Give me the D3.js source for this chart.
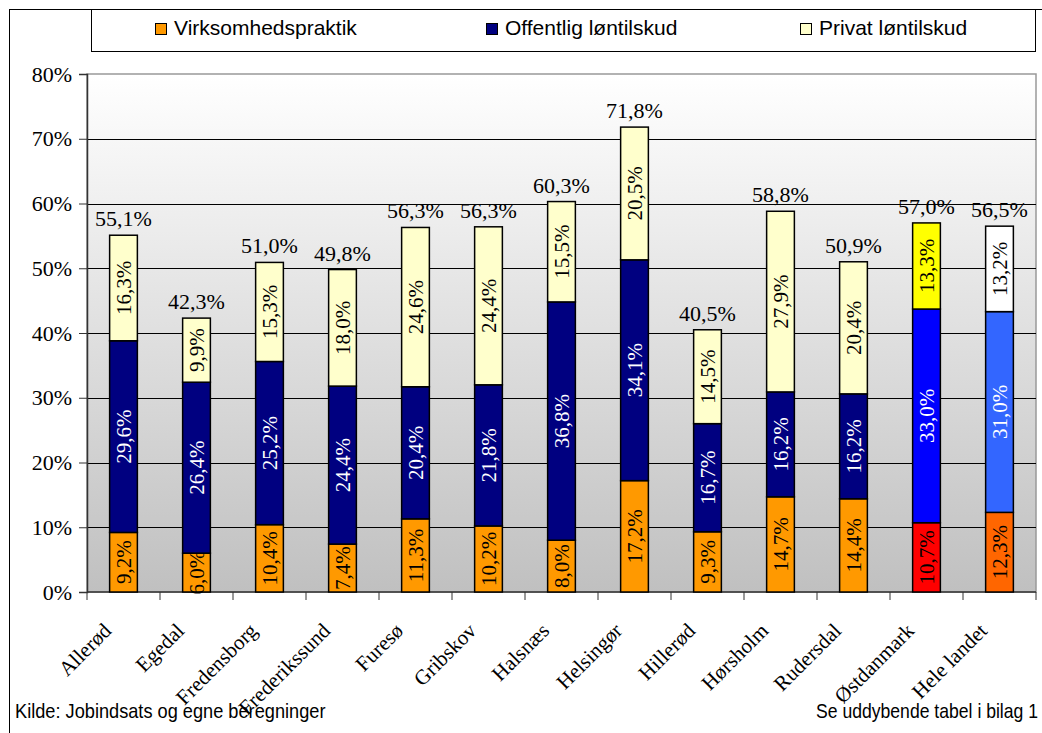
<!DOCTYPE html>
<html>
<head>
<meta charset="utf-8">
<script src="https://cdn.jsdelivr.net/npm/d3@7"></script>
<style>
  body { margin: 0; background: #fff; }
</style>
</head>
<body>
<div id="chart"></div>
<script>
var categories = ["Allerød", "Egedal", "Fredensborg", "Frederikssund", "Furesø", "Gribskov",
  "Halsnæs", "Helsingør", "Hillerød", "Hørsholm", "Rudersdal", "Østdanmark", "Hele landet"];
var seriesNames = ["Virksomhedspraktik", "Offentlig løntilskud", "Privat løntilskud"];
var virksomhed = [9.2, 6.0, 10.4, 7.4, 11.3, 10.2, 8.0, 17.2, 9.3, 14.7, 14.4, 10.7, 12.3];
var offentlig  = [29.6, 26.4, 25.2, 24.4, 20.4, 21.8, 36.8, 34.1, 16.7, 16.2, 16.2, 33.0, 31.0];
var privat     = [16.3, 9.9, 15.3, 18.0, 24.6, 24.4, 15.5, 20.5, 14.5, 27.9, 20.4, 13.3, 13.2];
var totals     = [55.1, 42.3, 51.0, 49.8, 56.3, 56.3, 60.3, 71.8, 40.5, 58.8, 50.9, 57.0, 56.5];
var yTicks = [0, 10, 20, 30, 40, 50, 60, 70, 80];

var width = 1042, height = 733;
var plot = {left: 87, right: 1036, top: 74, bottom: 592};
var SERIF = "'Liberation Serif', 'Times New Roman', serif";
var SANS = "'Liberation Sans', Arial, sans-serif";

var baseColors = ["#ff9900", "#000080", "#ffffcc"];
var baseText = ["#000", "#fff", "#000"];
// the two summary bars get their own colours
var specialColors = {
  "Østdanmark": ["#ff0000", "#0000ff", "#ffff00"],
  "Hele landet": ["#ff6600", "#3366ff", "#ffffff"]
};

var fmt = function(v) { return v.toFixed(1).replace(".", ",") + "%"; };

var svg = d3.select("#chart").append("svg")
  .attr("width", width).attr("height", height);

var grad = svg.append("defs").append("linearGradient").attr("id", "bg")
  .attr("x1", 0).attr("y1", 0).attr("x2", 0).attr("y2", 1);
grad.append("stop").attr("offset", "0%").attr("stop-color", "#ffffff");
grad.append("stop").attr("offset", "100%").attr("stop-color", "#c0c0c0");

// outer frame (runs off the right/bottom edge like the original)
svg.append("rect").attr("x", 9.5).attr("y", 9.5).attr("width", 1060).attr("height", 760)
  .attr("fill", "none").attr("stroke", "#000").attr("stroke-width", 1);

var x = d3.scaleBand().domain(categories).range([plot.left, plot.right]).paddingInner(0.62).paddingOuter(0.31);
var xTick = d3.scaleBand().domain(categories).range([plot.left, plot.right]);
var y = d3.scaleLinear().domain([0, 80]).range([plot.bottom, plot.top]);

svg.append("rect").attr("x", plot.left).attr("y", plot.top)
  .attr("width", plot.right - plot.left).attr("height", plot.bottom - plot.top)
  .attr("fill", "url(#bg)").attr("stroke", "#999").attr("stroke-width", 1.5);

// gridlines
svg.append("g").selectAll("line").data(yTicks.slice(1, -1)).enter().append("line")
  .attr("x1", plot.left).attr("x2", plot.right)
  .attr("y1", function(d) { return Math.round(y(d)) + 0.5; })
  .attr("y2", function(d) { return Math.round(y(d)) + 0.5; })
  .attr("stroke", "#000").attr("stroke-width", 1);

// y axis
var yAxis = svg.append("g").attr("transform", "translate(" + plot.left + ",0)")
  .call(d3.axisLeft(y).tickValues(yTicks).tickSize(8).tickPadding(7)
    .tickFormat(function(d) { return d + "%"; }));
yAxis.select(".domain").attr("stroke", "#333").attr("stroke-width", 1.5);
yAxis.selectAll(".tick line").attr("stroke", "#333");
yAxis.selectAll("text").style("font-family", SERIF).style("font-size", "22px").attr("fill", "#000");

// x axis line + ticks at band edges
svg.append("line").attr("x1", plot.left).attr("x2", plot.right)
  .attr("y1", plot.bottom).attr("y2", plot.bottom)
  .attr("stroke", "#333").attr("stroke-width", 1.5);
svg.append("g").selectAll("line").data(d3.range(categories.length + 1)).enter().append("line")
  .attr("x1", function(i) { return plot.left + i * xTick.step(); })
  .attr("x2", function(i) { return plot.left + i * xTick.step(); })
  .attr("y1", plot.bottom).attr("y2", plot.bottom + 8)
  .attr("stroke", "#333");

svg.append("g").selectAll("text").data(categories).enter().append("text")
  .attr("transform", function(d) {
    return "translate(" + (xTick(d) + xTick.bandwidth() / 2 - 11) + "," + (plot.bottom + 40) + ") rotate(-45)";
  })
  .attr("text-anchor", "end")
  .style("font-family", SERIF)
  .style("font-size", "21px")
  .text(function(d) { return d; });

// stacked rows
var rows = categories.map(function(c, i) {
  return {cat: c, v: [virksomhed[i], offentlig[i], privat[i]], total: totals[i]};
});

svg.append("g").selectAll("g").data(rows).enter().append("g")
  .each(function(d) {
    var g = d3.select(this);
    var cols = specialColors[d.cat] || baseColors;
    var acc = 0;
    d.v.forEach(function(v, k) {
      var y0 = acc, y1 = acc + v;
      acc = y1;
      g.append("rect")
        .attr("x", x(d.cat)).attr("width", x.bandwidth())
        .attr("y", y(y1)).attr("height", y(y0) - y(y1))
        .attr("fill", cols[k]).attr("stroke", "#000").attr("stroke-width", 1.5);
      var cx = x(d.cat) + x.bandwidth() / 2, cy = (y(y0) + y(y1)) / 2;
      g.append("text")
        .attr("transform", "translate(" + (cx + 7) + "," + cy + ") rotate(-90)")
        .attr("text-anchor", "middle")
        .style("font-family", SERIF)
        .style("font-size", "21px")
        .attr("fill", baseText[k])
        .text(fmt(v));
    });
    g.append("text")
      .attr("x", x(d.cat) + x.bandwidth() / 2)
      .attr("y", y(acc) - 9)
      .attr("text-anchor", "middle")
      .style("font-family", SERIF)
      .style("font-size", "22px")
      .text(fmt(d.total));
  });

// legend
var legend = svg.append("g");
legend.append("rect").attr("x", 91.5).attr("y", 9.5).attr("width", 944).attr("height", 42)
  .attr("fill", "#fff").attr("stroke", "#000");
var legX = [155, 486, 800];
legend.selectAll("g").data(seriesNames).enter().append("g")
  .attr("transform", function(d, i) { return "translate(" + legX[i] + ",23)"; })
  .each(function(d, i) {
    var g = d3.select(this);
    g.append("rect").attr("x", 0.5).attr("y", 0.5).attr("width", 11).attr("height", 11)
      .attr("fill", baseColors[i]).attr("stroke", "#000");
    g.append("text").attr("x", 19).attr("y", 12)
      .style("font-family", SANS)
      .style("font-size", "21px")
      .text(d);
  });

// footnotes: narrow face in the original, so squeeze horizontally
svg.append("text").attr("transform", "translate(15,718) scale(0.91,1)")
  .style("font-family", SANS).style("font-size", "20px")
  .text("Kilde: Jobindsats og egne beregninger");
svg.append("text").attr("transform", "translate(816,718) scale(0.88,1)")
  .style("font-family", SANS).style("font-size", "20px")
  .text("Se uddybende tabel i bilag 1");
</script>
</body>
</html>
